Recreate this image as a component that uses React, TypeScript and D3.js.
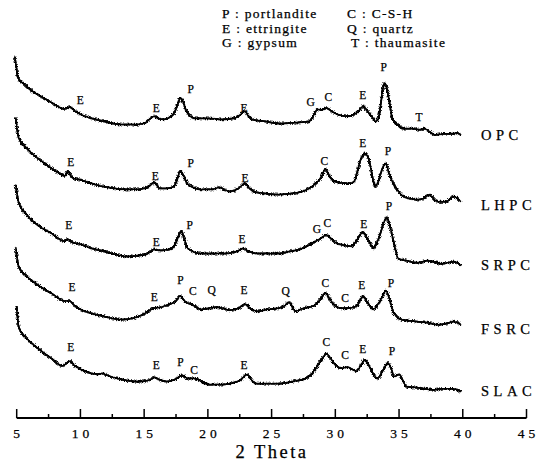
import React from "react";
import * as d3 from "d3";

// ---- data (2θ, relative intensity) ----
const samples = ["OPC", "LHPC", "SRPC", "FSRC", "SLAC"];

const opc: [number, number][] = [
  [4.84, 81], [5.0, 68], [5.08, 61], [5.6, 54], [6.39, 46], [7.1, 41], [7.78, 36], [8.76, 30], [9.17, 32], [9.5, 29],
  [9.99, 25], [10.9, 21], [11.87, 18], [13.26, 15], [14.5, 15], [15.14, 17], [15.5, 21], [15.8, 23], [16.1, 21], [16.53, 20],
  [17.0, 22], [17.35, 26], [17.65, 35], [17.84, 41], [18.05, 37], [18.25, 30], [18.42, 26], [18.99, 21], [20.0, 21], [21.11, 20],
  [22.0, 21], [22.5, 24], [22.89, 28], [23.2, 23], [23.45, 20], [24.5, 18], [25.66, 16], [27.0, 17], [27.93, 18], [28.3, 24],
  [28.62, 30], [28.9, 29], [29.3, 31], [29.7, 28], [30.12, 25], [30.93, 23], [31.5, 25], [31.9, 29], [32.18, 33], [32.5, 28],
  [32.9, 22], [33.2, 18], [33.4, 22], [33.55, 33], [33.72, 50], [33.87, 55], [34.05, 50], [34.25, 36], [34.45, 22], [34.61, 18],
  [35.0, 14], [35.35, 11], [36.0, 11], [36.66, 10], [37.0, 11], [37.4, 8], [37.8, 5], [38.5, 6], [39.11, 6], [39.5, 7], [39.85, 5],
];

const lhpc: [number, number][] = [
  [4.92, 90], [5.16, 70], [5.7, 61], [6.39, 53], [7.1, 46], [7.78, 40], [8.3, 36], [8.76, 33], [9.01, 38], [9.2, 34],
  [9.42, 31], [10.1, 29], [10.81, 26], [11.7, 23], [12.69, 21], [13.6, 20], [14.57, 20], [15.39, 23], [15.8, 27], [16.21, 21],
  [16.8, 21], [17.35, 23], [17.6, 30], [17.84, 38], [18.1, 33], [18.42, 25], [19.48, 20], [20.4, 20], [20.87, 22], [21.69, 18],
  [22.4, 21], [22.91, 26], [23.2, 22], [23.57, 18], [24.5, 16], [25.53, 15], [26.5, 16], [27.41, 18], [28.48, 26], [28.9, 32],
  [29.21, 40], [29.5, 34], [29.87, 28], [30.69, 26], [31.2, 26], [31.5, 28], [31.75, 38], [31.91, 46], [32.15, 53], [32.32, 55],
  [32.5, 53], [32.73, 44], [32.95, 30], [33.14, 23], [33.35, 27], [33.55, 35], [33.8, 43], [33.96, 45], [34.2, 36], [34.53, 26],
  [34.9, 19], [35.35, 13], [35.9, 11], [36.41, 10], [36.9, 11], [37.39, 15], [37.7, 11], [38.05, 8], [38.7, 8], [39.27, 13], [39.6, 11], [39.85, 8],
];

const srpc: [number, number][] = [
  [4.92, 83], [5.16, 65], [5.7, 55], [6.39, 46], [7.1, 40], [7.78, 35], [8.76, 28], [9.0, 30], [9.3, 27], [9.99, 25],
  [10.9, 21], [11.87, 18], [12.8, 15], [13.75, 13], [14.5, 14], [15.14, 15], [15.8, 20], [16.3, 19], [17.02, 20], [17.43, 25],
  [17.7, 33], [17.92, 38], [18.15, 30], [18.42, 21], [19.48, 16], [20.5, 16], [21.44, 16], [22.3, 18], [22.75, 21], [23.2, 18],
  [23.9, 16], [24.7, 16], [25.53, 16], [26.4, 18], [27.17, 20], [27.9, 24], [28.48, 28], [28.9, 31], [29.3, 34], [29.7, 30],
  [30.12, 26], [30.7, 24], [31.26, 23], [31.75, 30], [32.16, 37], [32.45, 32], [32.75, 25], [32.98, 21], [33.25, 26], [33.55, 36],
  [33.8, 46], [34.04, 51], [34.25, 44], [34.53, 30], [34.75, 18], [34.94, 11], [35.6, 9], [36.41, 7], [37.23, 9], [37.7, 8], [38.29, 6],
  [38.8, 7], [39.27, 8], [39.6, 7], [39.85, 4],
];

const fsrc: [number, number][] = [
  [4.92, 84], [5.16, 65], [5.7, 57], [6.39, 50], [7.1, 44], [7.78, 39], [8.76, 32], [9.17, 32], [9.5, 28], [9.99, 24],
  [10.9, 20], [11.87, 17], [12.5, 15], [13.26, 14], [14.0, 15], [14.57, 17], [15.2, 21], [15.72, 25], [16.3, 26], [17.02, 29],
  [17.5, 32], [17.84, 37], [18.05, 34], [18.25, 31], [18.66, 29], [19.1, 26], [19.48, 24], [20.1, 25], [20.62, 26], [21.2, 25],
  [21.69, 23], [22.4, 25], [22.91, 29], [23.3, 25], [23.9, 22], [24.7, 24], [25.53, 25], [26.0, 27], [26.35, 31], [26.6, 27],
  [26.84, 22], [27.5, 25], [28.23, 27], [28.8, 33], [29.21, 40], [29.6, 33], [30.03, 27], [30.5, 25], [30.93, 25], [31.67, 27],
  [31.95, 33], [32.16, 37], [32.5, 31], [32.98, 24], [33.3, 28], [33.6, 34], [33.96, 42], [34.2, 36], [34.4, 27], [34.61, 20],
  [35.18, 14], [35.8, 13], [36.41, 12], [37.2, 11], [38.05, 9], [38.7, 10], [39.27, 12], [39.6, 11], [39.85, 9],
];

const slac: [number, number][] = [
  [5.0, 87], [5.16, 67], [5.7, 57], [6.39, 49], [7.1, 42], [7.78, 36], [8.6, 29], [9.17, 34], [9.5, 30], [9.99, 26],
  [10.6, 23], [11.3, 21], [11.7, 22], [12.3, 19], [13.26, 16], [14.57, 14], [15.3, 15], [15.8, 18], [16.2, 16], [16.78, 14],
  [17.4, 16], [18.0, 20], [18.4, 17], [18.99, 17], [19.5, 14], [20.05, 11], [21.0, 11], [21.69, 12], [22.5, 15], [23.08, 21],
  [23.4, 16], [23.73, 12], [24.6, 12], [25.53, 12], [26.6, 14], [27.66, 17], [28.1, 21], [28.48, 27], [28.9, 35], [29.3, 41],
  [29.6, 37], [29.95, 31], [30.44, 27], [30.93, 28], [31.3, 26], [31.67, 24], [32.0, 30], [32.32, 35], [32.7, 28], [33.0, 21],
  [33.3, 17], [33.7, 24], [34.12, 32], [34.4, 26], [34.61, 19], [35.02, 21], [35.3, 15], [35.59, 9], [36.5, 8], [37.64, 6],
  [38.5, 7], [39.27, 7], [39.85, 4],
];

const series = [opc, lhpc, srpc, fsrc, slac];

// peak labels: [sample index, 2θ, label height, letter]
const peakLabels: [number, number, number, string][] = [
  [0, 9.99, 35, "E"], [0, 15.96, 27, "E"], [0, 18.66, 46, "P"], [0, 22.83, 27, "E"], [0, 28.07, 33, "G"],
  [0, 29.46, 38, "C"], [0, 32.16, 40, "E"], [0, 33.79, 67, "P"], [0, 36.57, 18, "T"],
  [1, 9.25, 43, "E"], [1, 15.88, 29, "E"], [1, 18.66, 42, "P"], [1, 22.91, 27, "E"], [1, 29.13, 44, "C"],
  [1, 32.16, 61, "E"], [1, 34.12, 53, "P"],
  [2, 9.09, 40, "E"], [2, 15.96, 23, "E"], [2, 18.58, 40, "P"], [2, 22.67, 26, "E"], [2, 28.56, 36, "G"],
  [2, 29.38, 42, "C"], [2, 32.24, 41, "E"], [2, 34.2, 58, "P"],
  [3, 9.34, 42, "E"], [3, 15.8, 32, "E"], [3, 17.84, 49, "P"], [3, 18.82, 38, "C"], [3, 20.3, 39, "Q"],
  [3, 22.83, 39, "E"], [3, 26.1, 38, "Q"], [3, 29.21, 46, "C"], [3, 30.77, 31, "C"], [3, 32.08, 44, "E"], [3, 34.37, 46, "P"],
  [4, 9.25, 44, "E"], [4, 15.96, 26, "E"], [4, 17.84, 29, "P"], [4, 18.91, 21, "C"], [4, 22.83, 26, "E"],
  [4, 29.29, 49, "C"], [4, 30.77, 36, "C"], [4, 32.16, 42, "E"], [4, 34.45, 40, "P"],
];

const legendLeft = ["P : portlandite", "E : ettringite", "G : gypsum"];
const legendRight = ["C : C-S-H", "Q : quartz", "T : thaumasite"];

const majorTicks = [5, 10, 15, 20, 25, 30, 35, 40, 45];
const minorTicks = [7.5, 12.5, 17.5, 22.5, 27.5, 32.5, 37.5, 42.5];
const xLabel = "2 Theta";

// ---- layout ----
const W = 545;
const H = 463;
const baseY = [140, 210, 270, 334, 396];
const axisY = 418;
const FONT = "'Liberation Serif', 'DejaVu Serif', serif";
const INK = { fill: "#000", stroke: "#000", strokeWidth: 0.25 };

export default function App() {
  const x = d3.scaleLinear().domain([5, 45]).range([16.7, 526.5]);
  const y = d3.scaleLinear().domain([0, 100]).range([0, -103]);
  const line = d3
    .line<[number, number]>()
    .x((d) => x(d[0]))
    .y((d) => y(d[1]))
    .curve(d3.curveMonotoneX);

  return (
    <svg
      width={W}
      height={H}
      style={{ position: "absolute", left: 0, top: 0, background: "#fff" }}
      fontFamily={FONT}
    >
      <defs>
        <filter id="rough1" x="-5%" y="-30%" width="110%" height="160%">
          <feTurbulence type="fractalNoise" baseFrequency="1.3" numOctaves="2" seed="4" result="n" />
          <feDisplacementMap in="SourceGraphic" in2="n" scale="4.5" xChannelSelector="R" yChannelSelector="G" />
        </filter>
        <filter id="rough2" x="-5%" y="-30%" width="110%" height="160%">
          <feTurbulence type="fractalNoise" baseFrequency="1.1" numOctaves="2" seed="11" result="n" />
          <feDisplacementMap in="SourceGraphic" in2="n" scale="4" xChannelSelector="G" yChannelSelector="R" />
        </filter>
      </defs>
      <rect width={W} height={H} fill="#fff" />

      {/* legend */}
      {legendLeft.map((t, i) => (
        <text key={"l" + i} x={222} y={18 + i * 14.5} fontSize={13.5} letterSpacing={1.3} {...INK}>
          {t}
        </text>
      ))}
      {legendRight.map((t, i) => (
        <text key={"r" + i} x={i === 2 ? 351 : 347} y={18 + i * 14.5} fontSize={13.5} letterSpacing={1.3} {...INK}>
          {t}
        </text>
      ))}

      {/* traces */}
      {series.map((s, i) => (
        <g key={samples[i]} transform={`translate(0,${baseY[i]})`}>
          <path d={line(s) || ""} fill="none" stroke="#000" strokeWidth={1.8} filter="url(#rough1)" />
          <path d={line(s) || ""} fill="none" stroke="#000" strokeWidth={1.6} filter="url(#rough2)" />
          <path d={line(s) || ""} fill="none" stroke="#000" strokeWidth={1.4} />
          <text x={481} y={0} fontSize={14.5} letterSpacing={4.5} {...INK}>
            {samples[i]}
          </text>
        </g>
      ))}

      {/* peak labels */}
      {peakLabels.map(([si, th, h, l], k) => (
        <text key={"p" + k} x={x(th)} y={baseY[si] + y(h)} fontSize={11.5} textAnchor="middle" {...INK}>
          {l}
        </text>
      ))}

      {/* x axis */}
      <line x1={x(5)} x2={x(45)} y1={axisY} y2={axisY} stroke="#000" strokeWidth={2} />
      {majorTicks.map((t) => (
        <line key={"M" + t} x1={x(t)} x2={x(t)} y1={axisY} y2={axisY - 9} stroke="#000" strokeWidth={1.5} />
      ))}
      {minorTicks.map((t) => (
        <line key={"m" + t} x1={x(t)} x2={x(t)} y1={axisY} y2={axisY - 4} stroke="#000" strokeWidth={1.5} />
      ))}
      {majorTicks.map((t) => (
        <text key={"t" + t} x={x(t) + 2} y={438} fontSize={13.5} letterSpacing={4} textAnchor="middle" {...INK}>
          {t}
        </text>
      ))}
      <text x={272} y={458} fontSize={18.5} letterSpacing={2.5} textAnchor="middle" {...INK}>
        {xLabel}
      </text>
    </svg>
  );
}
